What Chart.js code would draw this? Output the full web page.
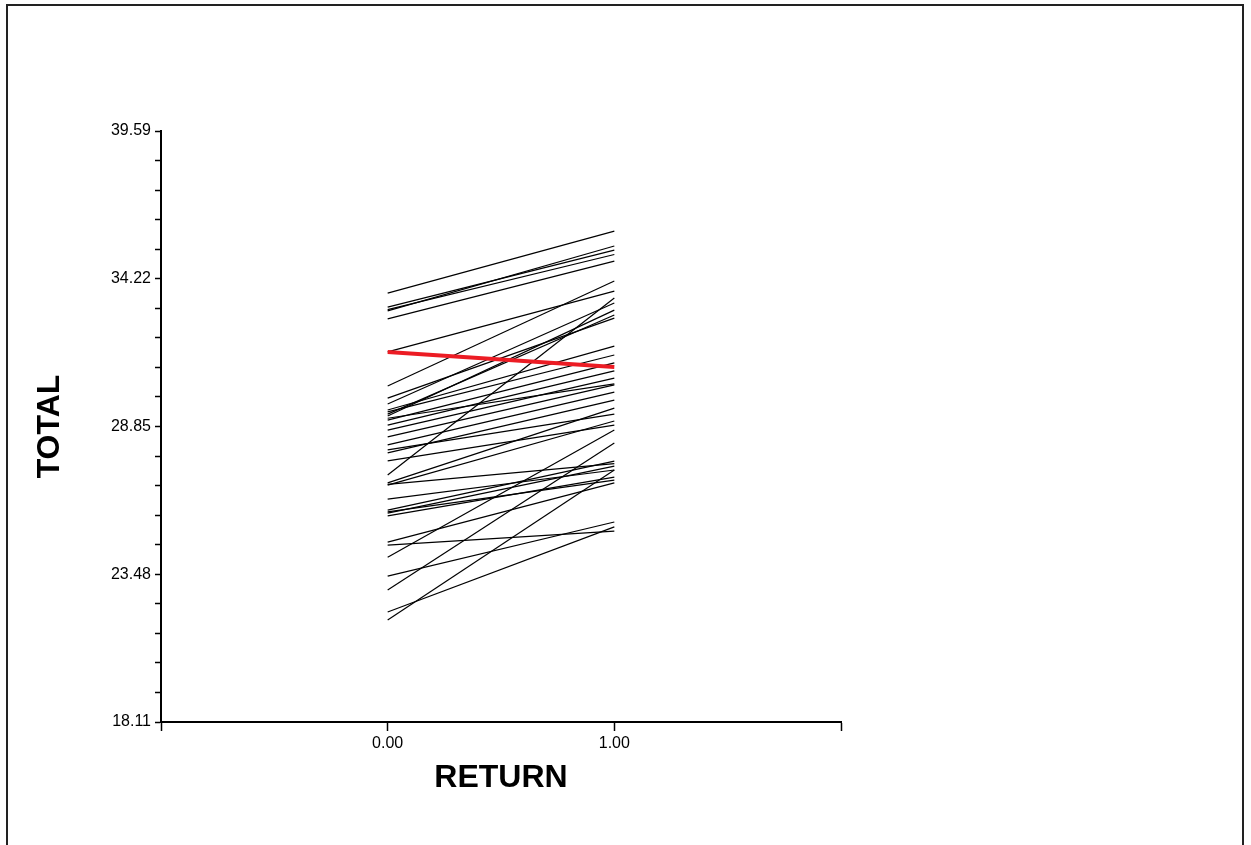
<!DOCTYPE html>
<html>
<head>
<meta charset="utf-8">
<script src="https://cdn.jsdelivr.net/npm/chart.js@4"></script>
<style>
    html, body { margin: 0; padding: 0; background: #fff; }
    #wrap { position: relative; width: 1251px; height: 845px; }
    #frame {
        position: absolute; left: 6px; top: 4px; width: 1238px; height: 850px;
        border: 2px solid #222; box-sizing: border-box;
    }
    canvas { position: absolute; left: 0; top: 0; }
</style>
</head>
<body>
<div id="wrap">
    <div id="frame"></div>
    <canvas id="chart" width="1251" height="845"></canvas>
</div>
<script>
// x positions of the two measurements
var xCats = [0, 1];

// individual profiles: value at RETURN = 0 and RETURN = 1
var startVals = [33.70, 33.19, 33.05, 33.10, 32.76, 31.56, 30.32, 29.88, 29.67, 29.45,
                 29.38, 29.30, 29.23, 29.15, 29.08, 28.90, 28.72, 28.47, 28.18, 28.00,
                 27.89, 27.60, 27.09, 26.80, 26.75, 26.72, 26.21, 25.81, 25.75, 25.70,
                 25.60, 24.65, 24.54, 24.10, 23.41, 22.91, 22.11, 21.82];
var endVals   = [35.95, 35.26, 35.41, 35.10, 34.86, 33.77, 34.14, 32.79, 33.34, 31.77,
                 31.45, 32.90, 33.08, 30.40, 31.16, 30.87, 30.61, 30.36, 30.10, 29.30,
                 29.81, 28.90, 33.52, 29.52, 27.50, 29.05, 27.27, 27.59, 26.90, 27.41,
                 27.01, 26.80, 25.05, 28.72, 25.38, 28.25, 25.20, 27.27];

// mean profile (red)
var meanVals = [31.56, 31.01];

// y axis
var yMajor = [18.11, 23.48, 28.85, 34.22, 39.59];
var yMinorPerMajor = 5;
var xTicks = [-1, 0, 1, 2];
var xLabels = ['', '0.00', '1.00', ''];

var datasets = [{
    data: xCats.map(function(x, i) { return { x: x, y: meanVals[i] }; }),
    borderColor: '#ec1c24',
    borderWidth: 4,
    pointRadius: 0,
    order: 0
}];
startVals.forEach(function(s, i) {
    datasets.push({
        data: [{ x: xCats[0], y: s }, { x: xCats[1], y: endVals[i] }],
        borderColor: '#000',
        borderWidth: 1.2,
        pointRadius: 0,
        order: 1
    });
});

var yTickVals = [];
for (var m = 0; m < yMajor.length - 1; m++) {
    var step = (yMajor[m + 1] - yMajor[m]) / yMinorPerMajor;
    for (var k = 0; k < yMinorPerMajor; k++) yTickVals.push(yMajor[m] + k * step);
}
yTickVals.push(yMajor[yMajor.length - 1]);

Chart.defaults.font.family = 'Arial, "Liberation Sans", sans-serif';
Chart.defaults.color = '#000';

new Chart(document.getElementById('chart').getContext('2d'), {
    type: 'line',
    data: { datasets: datasets },
    options: {
        responsive: false,
        animation: false,
        events: [],
        layout: { padding: { left: 0, top: 131, right: 410, bottom: 0 } },
        plugins: { legend: { display: false }, tooltip: { enabled: false } },
        scales: {
            x: {
                type: 'linear',
                min: -1, max: 2,
                afterBuildTicks: function(s) { s.ticks = xTicks.map(function(v) { return { value: v }; }); },
                afterFit: function(s) { s.height = 123; },
                ticks: {
                    autoSkip: false, maxRotation: 0, padding: 3,
                    font: { size: 16 }, color: '#000',
                    callback: function(v) { return xLabels[xTicks.indexOf(v)]; }
                },
                grid: { display: true, drawOnChartArea: false, tickLength: 9, color: '#000', tickWidth: 1.5 },
                border: { display: true, color: '#000', width: 2 },
                title: {
                    display: true, text: 'RETURN', color: '#000',
                    font: { size: 32, weight: 'bold' }, padding: { top: 0, bottom: 48 }
                }
            },
            y: {
                type: 'linear',
                min: yMajor[0], max: yMajor[yMajor.length - 1],
                afterBuildTicks: function(s) { s.ticks = yTickVals.map(function(v) { return { value: v }; }); },
                afterFit: function(s) { s.width = 161; },
                ticks: {
                    autoSkip: false, padding: 4,
                    font: { size: 16 }, color: '#000',
                    callback: function(v, i) { return i % yMinorPerMajor === 0 ? v.toFixed(2) : ''; }
                },
                grid: { display: true, drawOnChartArea: false, tickLength: 6, color: '#000', tickWidth: 1.5 },
                border: { display: true, color: '#000', width: 2 },
                title: {
                    display: true, text: 'TOTAL', color: '#000',
                    font: { size: 32, weight: 'bold' }, padding: { top: 31, bottom: 0 }
                }
            }
        }
    }
});
</script>
</body>
</html>
